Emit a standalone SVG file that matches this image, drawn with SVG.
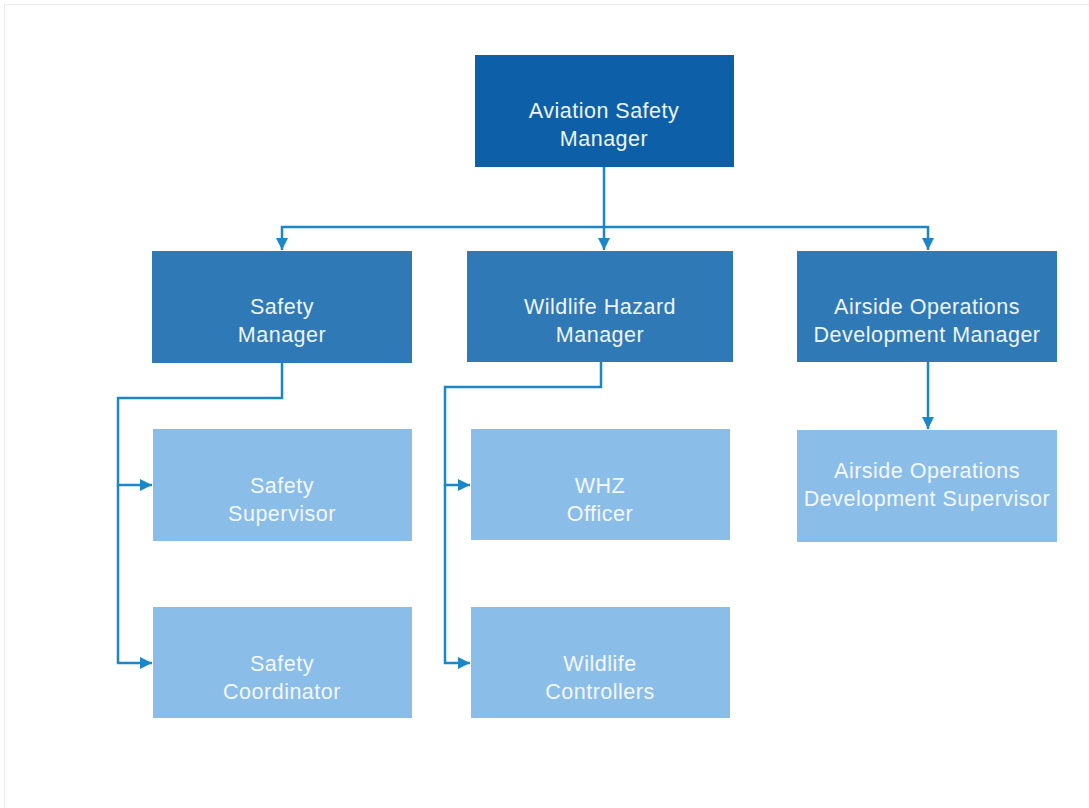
<svg xmlns="http://www.w3.org/2000/svg" width="1089" height="808" viewBox="0 0 1089 808">
<defs>
<marker id="ah" viewBox="0 0 12 12" refX="12" refY="6" markerWidth="13" markerHeight="12" markerUnits="userSpaceOnUse" orient="auto">
<path d="M0,0 L12,6 L0,12 z" fill="#1b87c9"/>
</marker>
<style>
.l1{fill:#0d5fa8}
.l2{fill:#2f79b6}
.l3{fill:#8bbde9}
.t{font-family:"Liberation Sans",Arial,sans-serif;font-size:21.5px;letter-spacing:0.5px;text-anchor:middle;fill:#eef5fc}
.t3{font-family:"Liberation Sans",Arial,sans-serif;font-size:21.5px;letter-spacing:0.5px;text-anchor:middle;fill:#f3f8fd}
.c{fill:none;stroke:#1b87c9;stroke-width:2.5;marker-end:url(#ah)}
</style>
</defs>
<rect x="0" y="0" width="1089" height="808" fill="#ffffff"/>
<rect x="4.5" y="4.5" width="1090" height="810" fill="none" stroke="#ececec" stroke-width="1"/>
<g id="connectors">
<path class="c" d="M604,167 V227 H282 V250"/>
<path class="c" d="M604,227 V250"/>
<path class="c" d="M604,227 H928 V250"/>
<path class="c" d="M282,363 V398 H118 V485 H152"/>
<path class="c" d="M118,485 V663 H152"/>
<path class="c" d="M601,362 V387 H445 V485 H470"/>
<path class="c" d="M445,485 V663 H470"/>
<path class="c" d="M928,362 V429"/>
</g>
<g id="n-asm"><rect class="l1" x="475" y="55" width="259" height="112"/><text class="t" x="604" y="118">Aviation Safety</text><text class="t" x="604" y="146">Manager</text></g>
<g id="n-sm"><rect class="l2" x="152" y="251" width="260" height="112"/><text class="t" x="282" y="314">Safety</text><text class="t" x="282" y="342">Manager</text></g>
<g id="n-whm"><rect class="l2" x="467" y="251" width="266" height="111"/><text class="t" x="600" y="314">Wildlife Hazard</text><text class="t" x="600" y="342">Manager</text></g>
<g id="n-aodm"><rect class="l2" x="797" y="251" width="260" height="111"/><text class="t" x="927" y="314">Airside Operations</text><text class="t" x="927" y="342">Development Manager</text></g>
<g id="n-ss"><rect class="l3" x="153" y="429" width="259" height="112"/><text class="t3" x="282" y="493">Safety</text><text class="t3" x="282" y="521">Supervisor</text></g>
<g id="n-sc"><rect class="l3" x="153" y="607" width="259" height="111"/><text class="t3" x="282" y="671">Safety</text><text class="t3" x="282" y="699">Coordinator</text></g>
<g id="n-whz"><rect class="l3" x="471" y="429" width="259" height="111"/><text class="t3" x="600" y="493">WHZ</text><text class="t3" x="600" y="521">Officer</text></g>
<g id="n-wc"><rect class="l3" x="471" y="607" width="259" height="111"/><text class="t3" x="600" y="671">Wildlife</text><text class="t3" x="600" y="699">Controllers</text></g>
<g id="n-aods"><rect class="l3" x="797" y="430" width="260" height="112"/><text class="t3" x="927" y="478">Airside Operations</text><text class="t3" x="927" y="506">Development Supervisor</text></g>
</svg>
